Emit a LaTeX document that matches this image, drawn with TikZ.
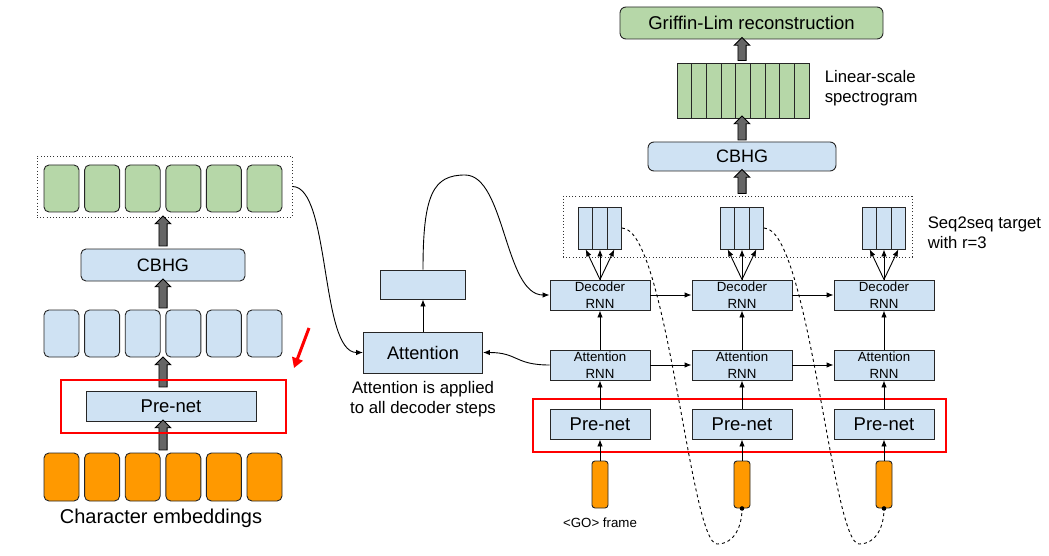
\documentclass[tikz,border=0pt]{standalone}
\usepackage{fontspec}
\setmainfont{Liberation Sans}
\usepackage{tikz}
\usetikzlibrary{arrows.meta,positioning,fit,shapes.arrows}
\definecolor{lblue}{HTML}{CFE2F3}
\definecolor{lgreen}{HTML}{B6D7A8}
\definecolor{lorange}{HTML}{FF9900}
\definecolor{redline}{HTML}{FF0000}

\begin{document}
\begin{tikzpicture}[x=1pt,y=-1pt,line width=0.9pt,
	>={Latex[length=7pt,width=5.5pt]},
	box/.style={draw=black!85,fill=lblue,inner sep=0pt,align=center},
	cell/.style={draw=black!85,rounded corners=5pt,minimum width=35pt,minimum height=47pt,inner sep=0pt},
	rnn/.style={box,minimum width=100pt,minimum height=30pt,font=\fontsize{13.3}{16.5}\selectfont},
	prenet/.style={box,minimum height=30pt,font=\fontsize{18.5}{22}\selectfont},
	frame/.style={draw=black!85,fill=lorange,rounded corners=3pt,minimum width=16pt,minimum height=47pt,inner sep=0pt},
	tcell/.style={box,minimum width=14.3pt,minimum height=42pt},
	fat/.style={single arrow,draw=black,fill=black!60,rotate=90,inner sep=0pt,text height=3.7pt,text depth=3.7pt,minimum width=15pt,single arrow head extend=3.7pt,line width=0.8pt},
	redbox/.style={draw=redline,line width=1.8pt,inner sep=0pt},
	dotbox/.style={draw=black!80,dash pattern=on 1pt off 2.2pt,inner sep=0pt}]
	\useasboundingbox (0,0) rectangle (1049,556);

	\begin{scope}
		\node[dotbox,minimum width=255pt,minimum height=61pt] (encout) at (164.5,186.5) {};
		\foreach \i in {1,...,6}{
			\node[cell,fill=lgreen] (g\i) at ({20.9+40.6*\i},188.5) {};
			\node[cell,fill=lblue] (b\i) at ({20.9+40.6*\i},333.5) {};
			\node[cell,fill=lorange,minimum height=48pt] (o\i) at ({20.9+40.6*\i},477) {};
		}
		\node[box,rounded corners=5pt,minimum width=164pt,minimum height=32pt,font=\fontsize{18}{21}\selectfont] (cbhgE) at (163,265) {CBHG};
		\node[prenet,minimum width=170pt] (preE) at (171,406) {Pre-net};
		\node[font=\fontsize{20}{24}\selectfont] (chars) at (161,518) {Character embeddings};
		\path (o1.north -| cbhgE) -- node[fat,minimum height=30pt] (fa1) {} (preE.south -| cbhgE);
		\path (preE.north -| cbhgE) -- node[fat,minimum height=30pt] (fa2) {} (b1.south -| cbhgE);
		\path (b1.north -| cbhgE) -- node[fat,minimum height=29pt] (fa3) {} (cbhgE.south);
		\path (cbhgE.north) -- node[fat,minimum height=30pt] (fa4) {} (encout.south -| cbhgE);
		\node[redbox,minimum width=225pt,minimum height=53pt] (redE) at (173.5,406.5) {};
		\coordinate (rs) at (309,328);
		\coordinate (re) at (294,368);
		\draw[redline,line width=3pt,-{Triangle[length=10pt,width=11pt]}] (rs) -- (re);
	\end{scope}

	\begin{scope}
		\node[box,minimum width=119pt,minimum height=41pt,font=\fontsize{18.2}{22}\selectfont] (attn) at (423,352.5) {Attention};
		\node[box,minimum width=85pt,minimum height=29pt] (ctx) at (423,284.5) {};
		\node[align=center,font=\fontsize{16.8}{20}\selectfont] (attntext) at (423,399) {Attention is applied\\to all decoder steps};
		\draw[->] (attn.north) -- (ctx.south);
		\draw[->] (encout.east) .. controls +(38,0) and +(-43,0) .. (attn.west);
	\end{scope}

	\begin{scope}
		\node[dotbox,minimum width=349pt,minimum height=61pt] (decout) at (737.5,226.5) {};
		\node[redbox,minimum width=413pt,minimum height=53pt] (redD) at (739.5,425.5) {};
		\foreach \c/\x in {1/600,2/742,3/884}{
			\node[rnn] (dec\c) at (\x,295) {Decoder\\RNN};
			\node[rnn] (att\c) at (\x,365) {Attention\\RNN};
			\node[prenet,minimum width=100pt] (pre\c) at (\x,424) {Pre-net};
			\node[frame] (go\c) at (\x,484.5) {};
			\node[tcell] (t\c-1) at (\x-14.3,228) {};
			\node[tcell] (t\c-2) at (\x,228) {};
			\node[tcell] (t\c-3) at (\x+14.3,228) {};
			\draw[->] (go\c) -- (pre\c);
			\draw[->] (pre\c) -- (att\c);
			\draw[->] (att\c) -- (dec\c);
			\draw[->] (dec\c.north) -- (t\c-1.south);
			\draw[->] (dec\c.north) -- (t\c-2.south);
			\draw[->] (dec\c.north) -- (t\c-3.south);
		}
		\node[font=\fontsize{13.3}{16}\selectfont] (gotext) at (600,523) {\textless GO\textgreater{} frame};
		\draw[->] (dec1.east) -- (dec2.west);
		\draw[->] (dec2.east) -- (dec3.west);
		\draw[->] (att1.east) -- (att2.west);
		\draw[->] (att2.east) -- (att3.west);
		\draw[->] (att1.west) .. controls +(-35,0) and +(35,0) .. (attn.east);
		\coordinate (peak) at (465,175);
		\draw[->] (ctx.north) .. controls +(0,-75) and +(-32,0) .. (peak) .. controls +(40,0) and +(-45,0) .. (dec1.west);
		\coordinate (low1) at (717,544);
		\coordinate (low2) at (859,544);
		\draw[dashed] (t1-3.east) .. controls +(45,0) and +(-27,0) .. (low1) .. controls +(18,0) and +(0,17) .. (go2.south);
		\draw[dashed] (t2-3.east) .. controls +(45,0) and +(-27,0) .. (low2) .. controls +(18,0) and +(0,17) .. (go3.south);
		\fill (go2.south) circle (2.3pt);
		\fill (go3.south) circle (2.3pt);
		\node[align=left,anchor=west,font=\fontsize{16.7}{20}\selectfont] (seqtext) at (924,233) {Seq2seq target\\with r=3};
	\end{scope}

	\begin{scope}
		\node[box,rounded corners=6pt,minimum width=188pt,minimum height=29pt,font=\fontsize{18}{21}\selectfont] (cbhgD) at (742,156.5) {CBHG};
		\foreach \i in {1,...,9}
			\node[draw=black!85,fill=lgreen,minimum width=14.67pt,minimum height=55pt,inner sep=0pt] (s\i) at ({669.67+14.67*\i},90.5) {};
		\node[draw=black!85,fill=lgreen,rounded corners=6pt,minimum width=263pt,minimum height=32pt,inner sep=0pt,font=\fontsize{18.5}{22}\selectfont] (gl) at (751.5,23) {Griffin-Lim reconstruction};
		\node[align=left,anchor=west,font=\fontsize{16.7}{20}\selectfont] (lintext) at (821,88) {Linear-scale\\spectrogram};
		\path (decout.north -| cbhgD) -- node[fat,minimum height=24pt] (fa5) {} (cbhgD.south);
		\path (cbhgD.north) -- node[fat,minimum height=24pt] (fa6) {} (s5.south -| cbhgD);
		\path (s5.north -| cbhgD) -- node[fat,minimum height=23pt] (fa7) {} (gl.south -| cbhgD);
	\end{scope}
\end{tikzpicture}
\end{document}
